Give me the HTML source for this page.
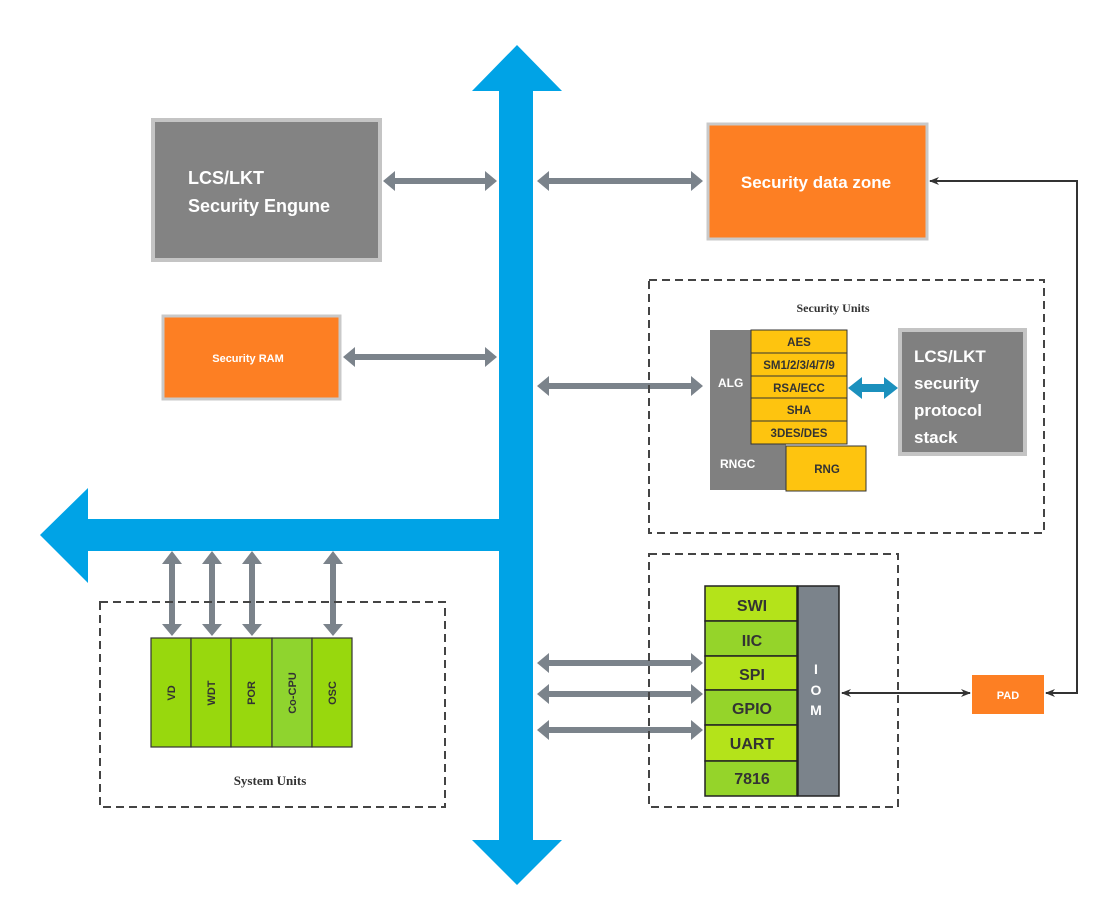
<!DOCTYPE html>
<html><head><style>body{margin:0;background:#fff}svg{display:block}</style></head><body>
<svg width="1102" height="899" viewBox="0 0 1102 899" xmlns="http://www.w3.org/2000/svg" font-family="Liberation Sans, sans-serif">
<defs>
<marker id="ah" markerWidth="10" markerHeight="10" refX="9" refY="5" orient="auto-start-reverse" markerUnits="userSpaceOnUse"><path d="M0,1 L10,5 L0,9 L3,5 Z" fill="#333"/></marker>
</defs>
<!-- blue bus -->
<g fill="#00a3e6">
<polygon points="517,45 562,91 533,91 533,840 562,840 517,885 472,840 499,840 499,551 88,551 88,583 40,535 88,488 88,519 499,519 499,91 472,91"/>
</g>
<!-- gray double arrows -->
<g fill="#7b838b">
<path id="h" d=""/>
</g>
<g fill="#7b838b">
<!-- horizontal: x1,x2,y -->
<polygon points="383,181 395,171 395,178 485,178 485,171 497,181 485,191 485,184 395,184 395,191"/>
<polygon points="537,181 549,171 549,178 691,178 691,171 703,181 691,191 691,184 549,184 549,191"/>
<polygon points="343,357 355,347 355,354 485,354 485,347 497,357 485,367 485,360 355,360 355,367"/>
<polygon points="537,386 549,376 549,383 691,383 691,376 703,386 691,396 691,389 549,389 549,396"/>
<polygon points="537,663 549,653 549,660 691,660 691,653 703,663 691,673 691,666 549,666 549,673"/>
<polygon points="537,694 549,684 549,691 691,691 691,684 703,694 691,704 691,697 549,697 549,704"/>
<polygon points="537,730 549,720 549,727 691,727 691,720 703,730 691,740 691,733 549,733 549,740"/>
<!-- vertical -->
<g id="v"><polygon points="172,551 182,564 175,564 175,624 182,624 172,636 162,624 169,624 169,564 162,564"/></g>
<use href="#v" x="40"/><use href="#v" x="80"/><use href="#v" x="161"/>
</g>
<!-- LCS engine -->
<rect x="153" y="120" width="227" height="140" fill="#838383" stroke="#c4c4c4" stroke-width="4"/>
<text x="188" y="184" fill="#fff" font-size="18" font-weight="bold">LCS/LKT</text>
<text x="188" y="212" fill="#fff" font-size="18" font-weight="bold">Security Engune</text>
<!-- Security data zone -->
<rect x="708" y="124" width="219" height="115" fill="#fd7f23" stroke="#c9c9c9" stroke-width="3"/>
<text x="816" y="188" fill="#fff" font-size="17" font-weight="bold" text-anchor="middle">Security data zone</text>
<!-- Security RAM -->
<rect x="163" y="316" width="177" height="83" fill="#fd7f23" stroke="#c9c9c9" stroke-width="3"/>
<text x="248" y="362" fill="#fff" font-size="11" font-weight="bold" text-anchor="middle">Security RAM</text>
<!-- Security Units -->
<rect x="649" y="280" width="395" height="253" fill="none" stroke="#444" stroke-width="2" stroke-dasharray="8,5"/>
<text x="833" y="312" fill="#333" font-size="12" font-weight="bold" font-family="Liberation Serif, serif" text-anchor="middle">Security Units</text>
<rect x="710" y="330" width="76" height="160" fill="#808080"/>
<text x="718" y="387" fill="#fff" font-size="12" font-weight="bold">ALG</text>
<text x="720" y="468" fill="#fff" font-size="12" font-weight="bold">RNGC</text>
<g fill="#fec40f" stroke="#333" stroke-width="1">
<rect x="751" y="330" width="96" height="23"/><rect x="751" y="353" width="96" height="23"/><rect x="751" y="376" width="96" height="22"/><rect x="751" y="398" width="96" height="23"/><rect x="751" y="421" width="96" height="23"/>
<rect x="786" y="446" width="80" height="45"/>
</g>
<g fill="#333" font-size="11.5" font-weight="bold" text-anchor="middle">
<text x="799" y="346">AES</text><text x="799" y="369">SM1/2/3/4/7/9</text><text x="799" y="392">RSA/ECC</text><text x="799" y="414">SHA</text><text x="799" y="437">3DES/DES</text><text x="827" y="473">RNG</text>
</g>
<polygon points="848,388 862,377 862,384 884,384 884,377 898,388 884,399 884,392 862,392 862,399" fill="#1b90bd"/>
<rect x="900" y="330" width="125" height="124" fill="#808080" stroke="#c4c4c4" stroke-width="4"/>
<g fill="#fff" font-size="17" font-weight="bold"><text x="914" y="362">LCS/LKT</text><text x="914" y="389">security</text><text x="914" y="416">protocol</text><text x="914" y="443">stack</text></g>
<!-- IOM -->
<rect x="649" y="554" width="249" height="253" fill="none" stroke="#444" stroke-width="2" stroke-dasharray="8,5"/>
<g stroke="#222" stroke-width="1.5">
<rect x="705" y="586" width="92" height="35" fill="#b4e31a"/><rect x="705" y="621" width="92" height="35" fill="#95d42a"/><rect x="705" y="656" width="92" height="34" fill="#b4e31a"/><rect x="705" y="690" width="92" height="35" fill="#95d42a"/><rect x="705" y="725" width="92" height="36" fill="#b4e31a"/><rect x="705" y="761" width="92" height="35" fill="#95d42a"/>
<rect x="798" y="586" width="41" height="210" fill="#7b838b"/>
</g>
<g fill="#333" font-size="16" font-weight="bold" text-anchor="middle">
<text x="752" y="611">SWI</text><text x="752" y="646">IIC</text><text x="752" y="680">SPI</text><text x="752" y="714">GPIO</text><text x="752" y="749">UART</text><text x="752" y="784">7816</text>
</g>
<g fill="#fff" font-size="14" font-weight="bold" text-anchor="middle"><text x="816" y="674">I</text><text x="816" y="695">O</text><text x="816" y="715">M</text></g>
<rect x="972" y="675" width="72" height="39" fill="#fd7f23"/>
<text x="1008" y="699" fill="#fff" font-size="11" font-weight="bold" text-anchor="middle">PAD</text>
<line x1="842" y1="693" x2="970" y2="693" stroke="#333" stroke-width="2" marker-start="url(#ah)" marker-end="url(#ah)"/>
<polyline points="1046,693 1077,693 1077,181 930,181" fill="none" stroke="#333" stroke-width="2" marker-start="url(#ah)" marker-end="url(#ah)"/>
<!-- System Units -->
<rect x="100" y="602" width="345" height="205" fill="none" stroke="#444" stroke-width="2" stroke-dasharray="8,5"/>
<g stroke="#333" stroke-width="1.2">
<rect x="151" y="638" width="40" height="109" fill="#98d80d"/><rect x="191" y="638" width="40" height="109" fill="#98d80d"/><rect x="231" y="638" width="41" height="109" fill="#98d80d"/><rect x="272" y="638" width="40" height="109" fill="#8fd42e"/><rect x="312" y="638" width="40" height="109" fill="#98d80d"/>
</g>
<g fill="#333" font-size="11" font-weight="bold" text-anchor="middle">
<text transform="translate(175,693) rotate(-90)">VD</text>
<text transform="translate(215,693) rotate(-90)">WDT</text>
<text transform="translate(255,693) rotate(-90)">POR</text>
<text transform="translate(296,693) rotate(-90)">Co-CPU</text>
<text transform="translate(336,693) rotate(-90)">OSC</text>
</g>
<text x="270" y="785" fill="#333" font-size="13" font-weight="bold" font-family="Liberation Serif, serif" text-anchor="middle">System Units</text>
</svg>
</body></html>
